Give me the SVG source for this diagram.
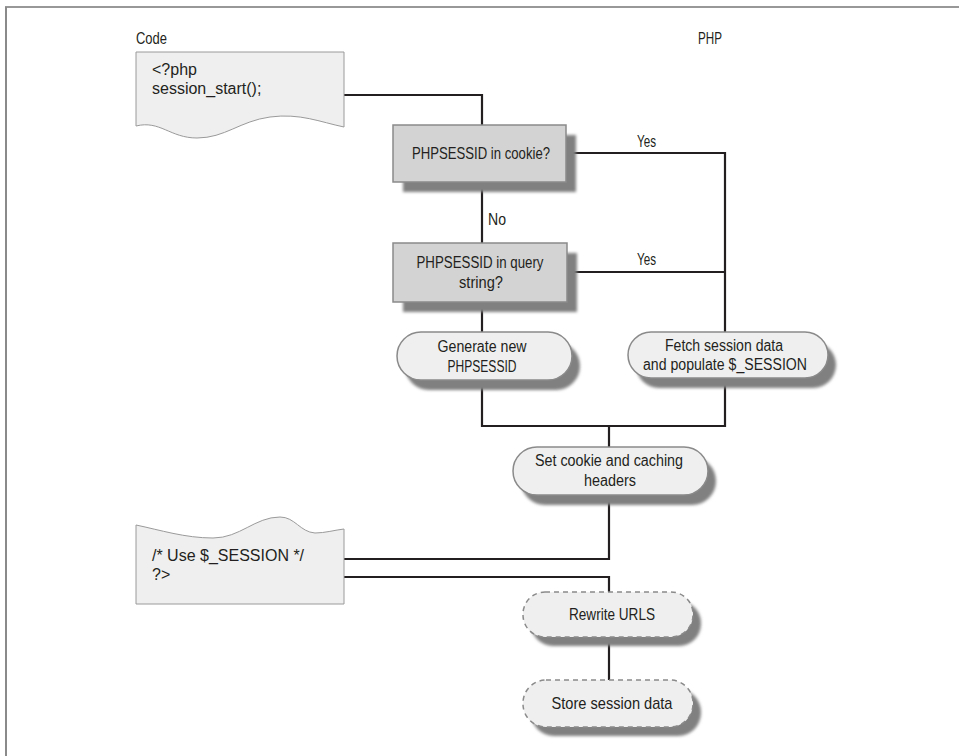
<svg xmlns="http://www.w3.org/2000/svg" width="959" height="756" viewBox="0 0 959 756">
<defs>
<filter id="blur" x="-10%" y="-20%" width="120%" height="140%"><feGaussianBlur stdDeviation="1.6"/></filter>
<style>
.frame-top{stroke:#333;stroke-width:1.2;fill:none}
.frame-left{stroke:#8a8a8a;stroke-width:2;fill:none}
.conn{stroke:#231f20;stroke-width:2.2;fill:none}
.doc{fill:#efefef;stroke:#9a9a9a;stroke-width:1}
.dec{fill:#d3d3d3;stroke:#8a8a8a;stroke-width:1.5}
.term{fill:#efefef;stroke:#8a8a8a;stroke-width:1.5}
.dash{fill:#efefef;stroke:#8a8a8a;stroke-width:1.5;stroke-dasharray:5 4}
.shadow{fill:#808080;filter:url(#blur)}
.lbl{font-family:"Liberation Sans",Arial,sans-serif;font-size:17px;fill:#231f20}
.sm{font-size:16px}
.mid{text-anchor:middle}
.code{font-family:"Liberation Sans",Arial,sans-serif;font-size:16px;fill:#231f20}
</style>
</defs>
<rect width="959" height="756" fill="#fff"/>
<path class="frame-top" d="M5,7 H959"/>
<path class="frame-left" d="M6,7 V756"/>

<text class="lbl" x="136" y="44" textLength="31" lengthAdjust="spacingAndGlyphs">Code</text>
<text class="lbl" x="698" y="44" textLength="24" lengthAdjust="spacingAndGlyphs">PHP</text>

<g id="connectors">
<path class="conn" d="M344,95 H482 V125"/>
<path class="conn" d="M566,153 H725 V332"/>
<path class="conn" d="M482,183 V243"/>
<path class="conn" d="M567,272 H725"/>
<path class="conn" d="M482,302 V332"/>
<path class="conn" d="M482,380 V426 H725 V378"/>
<path class="conn" d="M609,426 V447"/>
<path class="conn" d="M609,495 V559 H344"/>
<path class="conn" d="M344,577 H609 V592"/>
<path class="conn" d="M609,637 V680"/>
<text class="lbl" x="637" y="147" textLength="19" lengthAdjust="spacingAndGlyphs">Yes</text>
<text class="lbl" x="488" y="225" textLength="18" lengthAdjust="spacingAndGlyphs">No</text>
<text class="lbl" x="637" y="265" textLength="19" lengthAdjust="spacingAndGlyphs">Yes</text>
</g>

<g id="doc-start">
<path class="doc" d="M136,52 H344 V127 C320,122 300,113 270,117 C240,121 225,138 197,138 C170,138 160,120 136,126 Z"/>
<text class="code" x="152" y="75">&lt;?php</text>
<text class="code" x="152" y="94">session_start();</text>
</g>

<g id="cookie">
<rect class="shadow" x="403" y="135" width="173" height="57"/>
<rect class="dec" x="393" y="125" width="173" height="57"/>
<text class="lbl mid" x="481" y="159" textLength="138" lengthAdjust="spacingAndGlyphs">PHPSESSID in cookie?</text>
</g>

<g id="query">
<rect class="shadow" x="403" y="253" width="174" height="59"/>
<rect class="dec" x="393" y="243" width="174" height="59"/>
<text class="lbl sm mid" x="480" y="268" textLength="127" lengthAdjust="spacingAndGlyphs">PHPSESSID in query</text>
<text class="lbl sm mid" x="481" y="288" textLength="44" lengthAdjust="spacingAndGlyphs">string?</text>
</g>

<g id="generate">
<rect class="shadow" x="405" y="342" width="175" height="48" rx="24"/>
<rect class="term" x="397" y="332" width="175" height="48" rx="24"/>
<text class="lbl sm mid" x="482" y="352" textLength="89" lengthAdjust="spacingAndGlyphs">Generate new</text>
<text class="lbl sm mid" x="482" y="372" textLength="69" lengthAdjust="spacingAndGlyphs">PHPSESSID</text>
</g>

<g id="fetch">
<rect class="shadow" x="636" y="342" width="200" height="46" rx="23"/>
<rect class="term" x="628" y="332" width="200" height="46" rx="23"/>
<text class="lbl sm mid" x="724" y="351" textLength="118" lengthAdjust="spacingAndGlyphs">Fetch session data</text>
<text class="lbl sm mid" x="725" y="370" textLength="164" lengthAdjust="spacingAndGlyphs">and populate $_SESSION</text>
</g>

<g id="setcookie">
<rect class="shadow" x="521" y="457" width="195" height="48" rx="24"/>
<rect class="term" x="513" y="447" width="195" height="48" rx="24"/>
<text class="lbl sm mid" x="609" y="466" textLength="148" lengthAdjust="spacingAndGlyphs">Set cookie and caching</text>
<text class="lbl sm mid" x="610" y="486" textLength="52" lengthAdjust="spacingAndGlyphs">headers</text>
</g>

<g id="doc-end">
<path class="doc" d="M136,604 V525 C160,530 185,538 213,538 C240,538 255,517 280,517 C295,517 300,532 315,533 C325,533 335,530 344,529 V604 Z"/>
<text class="code" x="152" y="561">/* Use $_SESSION */</text>
<text class="code" x="152" y="580">?&gt;</text>
</g>

<g id="rewrite">
<rect class="shadow" x="531" y="601" width="170" height="45" rx="22"/>
<rect class="dash" x="523" y="592" width="170" height="45" rx="22"/>
<text class="lbl mid" x="612" y="620" textLength="86" lengthAdjust="spacingAndGlyphs">Rewrite URLS</text>
</g>

<g id="store">
<rect class="shadow" x="531" y="689" width="170" height="47" rx="23"/>
<rect class="dash" x="523" y="680" width="170" height="47" rx="23"/>
<text class="lbl mid" x="612" y="709" textLength="121" lengthAdjust="spacingAndGlyphs">Store session data</text>
</g>
</svg>
